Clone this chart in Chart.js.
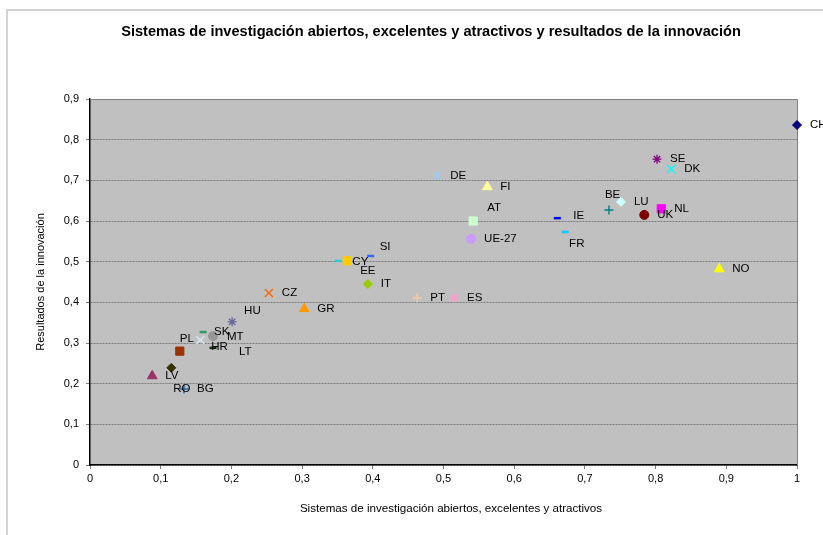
<!DOCTYPE html>
<html><head><meta charset="utf-8">
<script src="https://cdn.jsdelivr.net/npm/chart.js@4/dist/chart.umd.min.js"></script>
<style>html,body{margin:0;padding:0;background:#fff}canvas{display:block}</style>
</head><body>
<canvas id="c" width="823" height="535" style="width:823px;height:535px"></canvas>
<script>
// ---- data ----
const countries = ['CH','NL','NO','DK','SE','UK','BE','IE','FR','LU','AT','FI','DE','ES','UE-27','PT','SI','EE','IT','CY','GR','CZ','HU','MT','BG','SK','LT','RO','PL','LV','HR'];
const researchSystems = [1.000,0.808,0.890,0.822,0.802,0.784,0.734,0.661,0.672,0.751,0.542,0.562,0.491,0.515,0.539,0.463,0.397,0.351,0.393,0.364,0.303,0.253,0.201,0.174,0.133,0.160,0.174,0.115,0.127,0.088,0.156];
const innovationResults = [0.836,0.630,0.482,0.728,0.752,0.615,0.627,0.607,0.573,0.647,0.600,0.684,0.711,0.411,0.556,0.411,0.514,0.502,0.445,0.502,0.384,0.423,0.352,0.317,0.187,0.327,0.288,0.239,0.280,0.219,0.307];
const xTickLabels = ['0','0,1','0,2','0,3','0,4','0,5','0,6','0,7','0,8','0,9','1'];
const yTickLabels = ['0','0,1','0,2','0,3','0,4','0,5','0,6','0,7','0,8','0,9'];
const chartTitle = 'Sistemas de investigación abiertos, excelentes y atractivos y resultados de la innovación';
const xAxisTitle = 'Sistemas de investigación abiertos, excelentes y atractivos';
const yAxisTitle = 'Resultados de la innovación';

// ---- marker styles (Excel-like) ----
const markerShapes = ['rectRot','rect','triangle','crossRot','star','circle','cross','line','line','rectRot','rect','triangle','crossRot','star','circle','cross','line','line','rectRot','rect','triangle','crossRot','star','circle','cross','line','line','rectRot','rect','triangle','crossRot'];
const markerColors = ['#000080','#FF00FF','#FFFF00','#00FFFF','#800080','#800000','#008080','#0000FF','#00CCFF','#CCFFFF','#CCFFCC','#FFFF99','#99CCFF','#FF99CC','#CC99FF','#FFCC99','#3366FF','#33CCCC','#99CC00','#FFCC00','#FF9900','#FF6600','#666699','#969696','#336699','#339966','#003300','#333300','#993300','#993366','#D6E8F6'];
const shapeRadius = {rectRot:4.5, rect:5.8, triangle:5.6, crossRot:5.6, star:4.5, circle:4.5, cross:4.5, line:3.5};
const shapeWidth = {rectRot:1, rect:1, triangle:1, crossRot:1.4, star:1.3, circle:1, cross:1.4, line:2.5};

const labelOffsets = {
  'BE':[-4,-15], 'FR':[4,12], 'IE':[16,-2], 'AT':[14,-13], 'SI':[9,-9], 'CY':[5,1], 'EE':[22,10],
  'HU':[12,-11], 'MT':[14,1], 'PL':[0,-12], 'HR':[11,7], 'LT':[26,4], 'RO':[2,21], 'SK':[11,0]
};

const FONT = "'Liberation Sans', Arial, sans-serif";

const framePlugin = {
  id: 'frame',
  beforeDraw(chart) {
    const {ctx, chartArea: a} = chart;
    ctx.save();
    ctx.fillStyle = '#fff';
    ctx.fillRect(0, 0, chart.width, chart.height);
    ctx.strokeStyle = '#D4D4D4';
    ctx.lineWidth = 2;
    ctx.strokeRect(7, 10, 900, 700);
    ctx.fillStyle = '#C0C0C0';
    ctx.fillRect(a.left, a.top, a.right - a.left, a.bottom - a.top);
    // title
    ctx.fillStyle = '#000';
    ctx.font = 'bold 14.6px ' + FONT;
    ctx.textAlign = 'center';
    ctx.textBaseline = 'middle';
    ctx.fillText(chartTitle, 431, 32);
    // x axis title
    ctx.font = '11.6px ' + FONT;
    ctx.fillText(xAxisTitle, 451, 509);
    ctx.restore();
  },
  beforeDatasetsDraw(chart) {
    const {ctx, chartArea: a} = chart;
    ctx.save();
    ctx.strokeStyle = '#808080';
    ctx.lineWidth = 1;
    ctx.beginPath();
    ctx.moveTo(a.left, a.top + 0.5);
    ctx.lineTo(a.right + 0.5, a.top + 0.5);
    ctx.lineTo(a.right + 0.5, a.bottom);
    ctx.stroke();
    ctx.restore();
  },
  afterDatasetsDraw(chart) {
    const {ctx} = chart;
    const xs = chart.scales.x, ys = chart.scales.y;
    ctx.save();
    ctx.fillStyle = '#000';
    ctx.font = '11.5px ' + FONT;
    ctx.textAlign = 'left';
    ctx.textBaseline = 'middle';
    countries.forEach((name, i) => {
      const px = xs.getPixelForValue(researchSystems[i]);
      const py = ys.getPixelForValue(innovationResults[i]);
      const off = labelOffsets[name] || [13, 0];
      ctx.fillText(name, px + off[0], py + off[1]);
    });
    ctx.restore();
  }
};

new Chart(document.getElementById('c'), {
  type: 'scatter',
  data: {
    datasets: [{
      data: countries.map((c, i) => ({x: researchSystems[i], y: innovationResults[i]})),
      pointStyle: markerShapes,
      pointBackgroundColor: markerColors,
      pointBorderColor: markerColors,
      pointRadius: markerShapes.map(s => shapeRadius[s]),
      pointBorderWidth: markerShapes.map(s => shapeWidth[s]),
      pointHoverRadius: markerShapes.map(s => shapeRadius[s]),
      clip: false
    }]
  },
  options: {
    responsive: false,
    animation: false,
    events: [],
    layout: {padding: {top: 99, right: 26, left: 0, bottom: 0}},
    plugins: {legend: {display: false}, title: {display: false}, tooltip: {enabled: false}},
    scales: {
      x: {
        type: 'linear', min: 0, max: 1,
        afterFit: s => { s.height = 70; },
        ticks: {stepSize: 0.1, color: '#000', font: {family: FONT, size: 11}, padding: 3, maxRotation: 0,
          callback: (v, i) => xTickLabels[i]},
        grid: {drawOnChartArea: false, drawTicks: true, tickLength: 4, tickColor: '#808080'},
        border: {display: true, color: '#000', width: 1.5}
      },
      y: {
        type: 'linear', min: 0, max: 0.9,
        afterFit: s => { s.width = 90; },
        ticks: {stepSize: 0.1, color: '#000', font: {family: FONT, size: 11}, padding: 7,
          callback: (v, i) => yTickLabels[i]},
        grid: {drawOnChartArea: true, color: '#7a7a7a', lineWidth: 1, drawTicks: true, tickLength: 4, tickColor: '#808080'},
        border: {display: true, color: '#000', width: 1.5, dash: [2, 1]},
        title: {display: true, text: yAxisTitle, color: '#000', font: {family: FONT, size: 11}, padding: {top: 34, bottom: 0}}
      }
    }
  },
  plugins: [framePlugin]
});
</script>
</body></html>
